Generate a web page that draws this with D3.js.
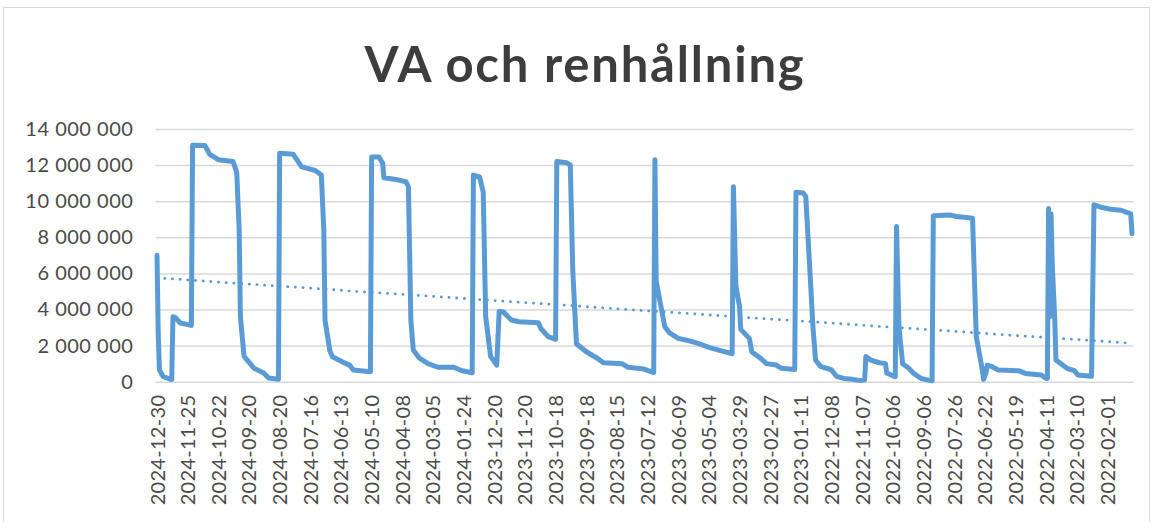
<!DOCTYPE html>
<html>
<head>
<meta charset="utf-8">
<script src="https://cdn.jsdelivr.net/npm/d3@7"></script>
<style>
  html, body { margin: 0; padding: 0; background: #fff; }
  svg { display: block; }
</style>
</head>
<body>
<div id="chart"></div>
<script>
'use strict';

// x axis: category positions (one per row in the sheet, newest first)
var categoryCount = 796;
var tickStep = 25;
var tickLabels = [
  '2024-12-30', '2024-11-25', '2024-10-22', '2024-09-20', '2024-08-20', '2024-07-16',
  '2024-06-13', '2024-05-10', '2024-04-08', '2024-03-05', '2024-01-24', '2023-12-20',
  '2023-11-20', '2023-10-18', '2023-09-18', '2023-08-15', '2023-07-12', '2023-06-09',
  '2023-05-04', '2023-03-29', '2023-02-27', '2023-01-11', '2022-12-08', '2022-11-07',
  '2022-10-06', '2022-09-06', '2022-07-26', '2022-06-22', '2022-05-19', '2022-04-11',
  '2022-03-10', '2022-02-01'
];
var yTicks = [0, 2000000, 4000000, 6000000, 8000000, 10000000, 12000000, 14000000];

// series: category index and value at each turning point
var pointIndex = [
  0, 1, 2, 5, 12, 13, 15, 19, 28, 29, 39, 43, 50, 62, 65, 67, 68, 71, 79, 87, 91, 99,
  100, 111, 114, 118, 129, 134, 136, 137, 141, 143, 151, 157, 160, 174,
  175, 181, 184, 185, 195, 203, 205, 207, 209, 214, 221, 229, 242, 248, 257,
  258, 263, 266, 268, 272, 277, 279, 282, 289, 295, 311, 313, 319, 325,
  326, 334, 337, 339, 342, 350, 359, 364, 379, 384, 397, 405,
  406, 407, 410, 414, 418, 425, 432, 441, 450, 458, 469,
  470, 472, 475, 476, 483, 485, 492, 497, 505, 509, 520,
  521, 527, 529, 532, 535, 537, 541, 550, 554, 560, 567, 574, 577,
  578, 582, 589, 594, 595, 601, 602,
  603, 605, 608, 613, 617, 623, 631, 632,
  633, 647, 652, 660, 665, 668, 673, 674, 676, 677, 681, 686, 703, 708, 721, 725, 726,
  727, 728, 729, 730, 732, 733, 742, 748, 751, 762,
  764, 769, 778, 786, 794, 795
];
var pointValues = [
  7000000, 2600000, 650000, 280000, 120000, 3600000, 3550000, 3250000, 3120000, 13100000,
  13080000, 12600000, 12300000, 12200000, 11600000, 8400000, 3600000, 1400000, 750000,
  480000, 200000, 130000,
  12650000, 12600000, 12300000, 11900000, 11700000, 11450000, 8400000, 3400000, 1700000,
  1380000, 1100000, 920000, 650000, 550000,
  12450000, 12450000, 12100000, 11300000, 11200000, 11080000, 10800000, 3400000, 1750000,
  1300000, 1000000, 800000, 800000, 620000, 500000,
  11450000, 11350000, 10500000, 3600000, 1400000, 920000, 3900000, 3880000, 3420000,
  3320000, 3270000, 2950000, 2500000, 2350000,
  12200000, 12130000, 12000000, 6200000, 2100000, 1660000, 1300000, 1050000, 1000000,
  800000, 700000, 500000,
  12300000, 5600000, 4500000, 3050000, 2700000, 2400000, 2300000, 2120000, 1900000,
  1750000, 1550000,
  10800000, 5300000, 4150000, 2900000, 2400000, 1660000, 1300000, 1000000, 920000,
  750000, 680000,
  10500000, 10450000, 10250000, 6600000, 2900000, 1200000, 850000, 650000, 300000,
  180000, 130000, 60000, 100000,
  1400000, 1200000, 1050000, 1000000, 480000, 300000, 280000,
  8600000, 3000000, 1000000, 740000, 460000, 180000, 60000, 50000,
  9200000, 9230000, 9150000, 9100000, 9050000, 2500000, 650000, 130000, 500000, 920000,
  830000, 650000, 600000, 460000, 370000, 180000, 180000,
  9600000, 3600000, 9300000, 6500000, 3500000, 1200000, 740000, 610000, 370000, 300000,
  9800000, 9680000, 9550000, 9500000, 9300000, 8200000
];

// linear trendline, value at first and last category
var trendValues = [5750000, 2130000];

var W = 1154, H = 522;
var plot = { left: 156.4, right: 1132.6, top: 129, bottom: 381.7 };

var svg = d3.select('#chart').append('svg')
  .attr('width', W)
  .attr('height', H)
  .attr('viewBox', [0, 0, W, H]);

// chart frame
svg.append('rect')
  .attr('x', 3.5).attr('y', 7.5)
  .attr('width', 1146).attr('height', 530)
  .attr('fill', '#fff')
  .attr('stroke', '#d9d9d9')
  .attr('stroke-width', 1);

svg.append('text')
  .attr('x', 585)
  .attr('y', 82)
  .attr('text-anchor', 'middle')
  .attr('font-family', 'Lato, "Open Sans", sans-serif')
  .attr('font-weight', 'bold')
  .attr('font-size', 49)
  .attr('letter-spacing', 1.8)
  .attr('fill', '#3d3d3d')
  .text('VA och renhållning');

var x = d3.scaleLinear()
  .domain([-0.5, categoryCount - 0.5])
  .range([plot.left, plot.right]);

var y = d3.scaleLinear()
  .domain([0, 14000000])
  .range([plot.bottom, plot.top]);

var fmt = function (v) {
  return d3.format(',')(v).replace(/,/g, ' ');
};

// y gridlines + labels
var yAxis = d3.axisLeft(y)
  .tickValues(yTicks)
  .tickSize(-(plot.right - plot.left + 2))
  .tickPadding(22)
  .tickFormat(fmt);

var gy = svg.append('g')
  .attr('transform', 'translate(' + (plot.left - 1) + ',0)')
  .call(yAxis);
gy.select('.domain').remove();
gy.selectAll('.tick line')
  .attr('stroke', '#d9d9d9')
  .attr('stroke-width', 1.5);
gy.selectAll('.tick text')
  .attr('font-family', 'Lato, sans-serif')
  .attr('font-size', 20)
  .attr('letter-spacing', 0.5)
  .attr('fill', '#4a4a4a');

// x category labels, rotated
var tickIdx = tickLabels.map(function (d, i) { return i * tickStep; });
var xAxis = d3.axisBottom(x)
  .tickValues(tickIdx)
  .tickSize(0)
  .tickPadding(0)
  .tickFormat(function (d, i) { return tickLabels[i]; });

var gx = svg.append('g')
  .attr('transform', 'translate(0,' + plot.bottom + ')')
  .call(xAxis);
gx.select('.domain').remove();
gx.selectAll('.tick text')
  .attr('font-family', 'Lato, sans-serif')
  .attr('font-size', 20)
  .attr('letter-spacing', 0.3)
  .attr('fill', '#4a4a4a')
  .attr('text-anchor', 'end')
  .attr('transform', 'translate(0,13) rotate(-90)')
  .attr('x', 0)
  .attr('y', 0)
  .attr('dy', '0.35em');

// series line
var points = pointIndex.map(function (d, i) { return [d, pointValues[i]]; });
var line = d3.line()
  .x(function (d) { return x(d[0]); })
  .y(function (d) { return y(d[1]); });

svg.append('path')
  .datum(points)
  .attr('d', line)
  .attr('fill', 'none')
  .attr('stroke', '#5b9bd5')
  .attr('stroke-width', 5)
  .attr('stroke-linejoin', 'round')
  .attr('stroke-linecap', 'round');

// trendline
svg.append('path')
  .datum([[0, trendValues[0]], [categoryCount - 1, trendValues[1]]])
  .attr('d', line)
  .attr('fill', 'none')
  .attr('stroke', '#5b9bd5')
  .attr('stroke-width', 2.8)
  .attr('stroke-linecap', 'round')
  .attr('stroke-dasharray', '0.1 7.6');
</script>
</body>
</html>
